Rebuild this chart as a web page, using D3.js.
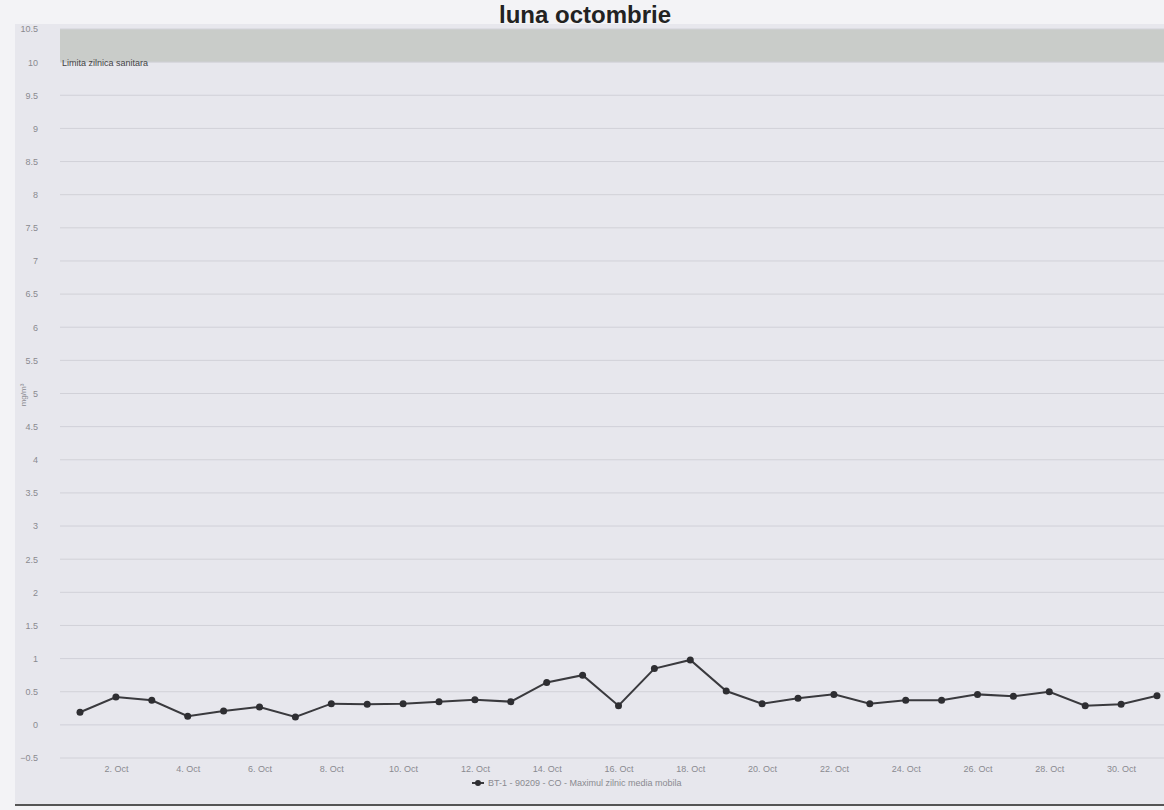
<!DOCTYPE html>
<html>
<head>
<meta charset="utf-8">
<script src="https://cdn.jsdelivr.net/npm/d3@7"></script>
<style>
  body { margin: 0; background: #f3f3f6; }
  text { font-family: "Liberation Sans", Arial, sans-serif; }
</style>
</head>
<body>
<div id="chart"></div>
<script>
// data
var days = d3.range(1, 32);
var values = [0.19, 0.42, 0.37, 0.13, 0.21, 0.27, 0.12, 0.32, 0.31, 0.32,
              0.35, 0.38, 0.35, 0.64, 0.75, 0.29, 0.85, 0.98, 0.51, 0.32,
              0.40, 0.46, 0.32, 0.37, 0.37, 0.46, 0.43, 0.50, 0.29, 0.31, 0.44];
var yTicks = d3.range(-0.5, 10.51, 0.5);
var xTicks = [2, 4, 6, 8, 10, 12, 14, 16, 18, 20, 22, 24, 26, 28, 30];
var band = [10, 10.5];
var title = "luna octombrie";
var bandLabel = "Limita zilnica sanitara";
var seriesName = "BT-1 - 90209 - CO - Maximul zilnic media mobila";

var W = 1164, H = 810;
var plotLeft = 60, plotRight = 1164;

var svg = d3.select("#chart").append("svg")
  .attr("width", W)
  .attr("height", H);

// chart background
svg.append("rect")
  .attr("x", 15).attr("y", 24)
  .attr("width", W - 15).attr("height", 781)
  .attr("fill", "#e7e7ed");

svg.append("line")
  .attr("x1", 15).attr("x2", W)
  .attr("y1", 805).attr("y2", 805)
  .attr("stroke", "#555").attr("stroke-width", 2);

var x = d3.scaleLinear().domain([1, 31]).range([80, 1157]);
var y = d3.scaleLinear().domain([-0.5, 10.5]).range([758, 29]);

// plot band
svg.append("rect")
  .attr("x", plotLeft)
  .attr("y", y(band[1]))
  .attr("width", plotRight - plotLeft)
  .attr("height", y(band[0]) - y(band[1]))
  .attr("fill", "#c9ccc9");

// grid
svg.append("g").selectAll("line")
  .data(yTicks)
  .enter().append("line")
  .attr("x1", plotLeft).attr("x2", plotRight)
  .attr("y1", d => y(d)).attr("y2", d => y(d))
  .attr("stroke", "#d1d1d8").attr("stroke-width", 1);

// y axis labels
svg.append("g")
  .attr("transform", "translate(" + plotLeft + ",0)")
  .call(d3.axisLeft(y).tickValues(yTicks).tickSize(0).tickPadding(22)
    .tickFormat(d => d3.format("")(+d.toFixed(1))))
  .call(g => g.select(".domain").remove())
  .selectAll("text")
  .attr("fill", "#8a8a90")
  .style("font-size", "9px");

// x axis labels
svg.append("g")
  .attr("transform", "translate(0,758)")
  .call(d3.axisBottom(x).tickValues(xTicks).tickSize(0).tickPadding(8)
    .tickFormat(d => d + ". Oct"))
  .call(g => g.select(".domain").remove())
  .selectAll("text")
  .attr("fill", "#8a8a90")
  .style("font-size", "9px");

// y title
svg.append("text")
  .attr("transform", "translate(26,395) rotate(-90)")
  .attr("text-anchor", "middle")
  .attr("fill", "#8a8a90")
  .style("font-size", "8px")
  .text("mg/m³");

// band label
svg.append("text")
  .attr("x", 62).attr("y", y(10) + 4)
  .attr("fill", "#444")
  .style("font-size", "9px")
  .text(bandLabel);

// title
svg.append("text")
  .attr("x", 585).attr("y", 23)
  .attr("text-anchor", "middle")
  .attr("fill", "#222")
  .style("font-size", "24px")
  .style("font-weight", "bold")
  .text(title);

// series line
var line = d3.line()
  .x((d, i) => x(days[i]))
  .y(d => y(d));

svg.append("path")
  .datum(values)
  .attr("fill", "none")
  .attr("stroke", "#3a3a3e")
  .attr("stroke-width", 2)
  .attr("d", line);

svg.append("g").selectAll("circle")
  .data(values)
  .enter().append("circle")
  .attr("cx", (d, i) => x(days[i]))
  .attr("cy", d => y(d))
  .attr("r", 3.5)
  .attr("fill", "#2e2e32");

// legend
var legend = svg.append("g").attr("transform", "translate(478,783)");
legend.append("line")
  .attr("x1", -6).attr("x2", 6)
  .attr("stroke", "#3a3a3e").attr("stroke-width", 2);
legend.append("circle").attr("r", 3).attr("fill", "#2e2e32");
legend.append("text")
  .attr("x", 10).attr("y", 3)
  .attr("fill", "#8a8a90")
  .style("font-size", "9px")
  .text(seriesName);
</script>
</body>
</html>
